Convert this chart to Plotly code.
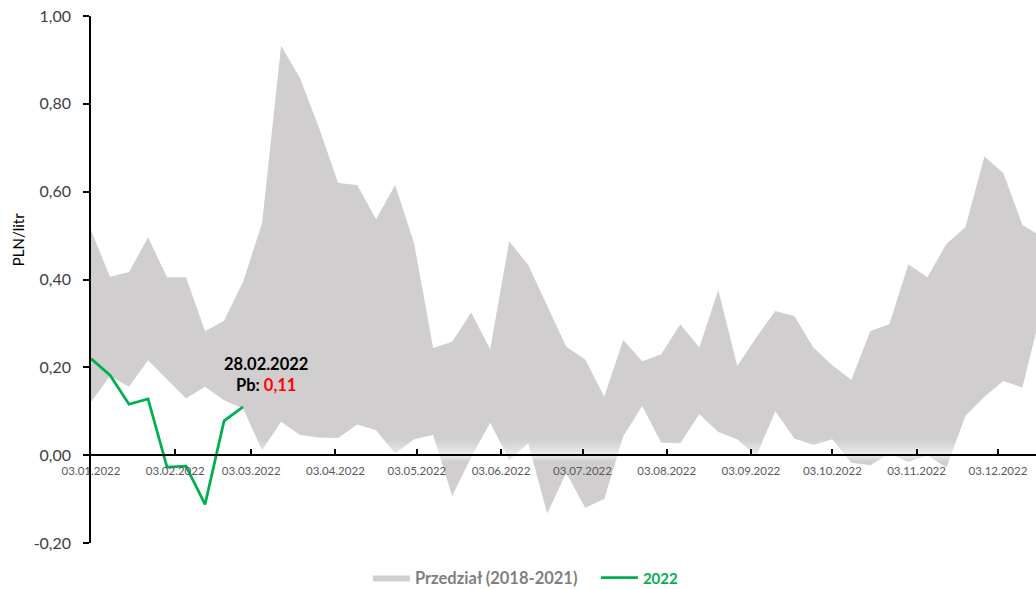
import pandas as pd
import plotly.graph_objects as go

# ---------------- data ----------------
start_date = "2022-01-03"
n_weeks = 51
week_dates = pd.date_range(start_date, periods=n_weeks, freq="7D")

upper_2018_2021 = [0.512, 0.406, 0.417, 0.496, 0.405, 0.405, 0.282, 0.306, 0.395, 0.528,
                   0.932, 0.858, 0.745, 0.620, 0.615, 0.537, 0.615, 0.482, 0.244, 0.258,
                   0.325, 0.241, 0.487, 0.433, 0.340, 0.247, 0.218, 0.133, 0.262, 0.214,
                   0.230, 0.298, 0.245, 0.376, 0.203, 0.268, 0.328, 0.317, 0.245, 0.205,
                   0.171, 0.283, 0.298, 0.435, 0.405, 0.481, 0.519, 0.680, 0.642, 0.524,
                   0.498]
lower_2018_2021 = [0.121, 0.180, 0.156, 0.216, 0.172, 0.129, 0.156, 0.125, 0.106, 0.011,
                   0.076, 0.046, 0.040, 0.039, 0.070, 0.057, 0.004, 0.036, 0.046, -0.093,
                   -0.005, 0.074, -0.011, 0.027, -0.133, -0.040, -0.120, -0.100, 0.043, 0.112,
                   0.028, 0.027, 0.093, 0.053, 0.036, -0.002, 0.100, 0.038, 0.023, 0.036,
                   -0.017, -0.023, 0.004, -0.015, 0.000, -0.028, 0.089, 0.133, 0.169, 0.154,
                   0.330]
values_2022 = [0.220, 0.182, 0.116, 0.128, -0.027, -0.025, -0.112, 0.078, 0.110]

x_tick_labels = ["03.01.2022", "03.02.2022", "03.03.2022", "03.04.2022", "03.05.2022",
                 "03.06.2022", "03.07.2022", "03.08.2022", "03.09.2022", "03.10.2022",
                 "03.11.2022", "03.12.2022"]
y_tick_labels = ["-0,20", "0,00", "0,20", "0,40", "0,60", "0,80", "1,00"]

band_name = "Przedział (2018-2021)"
line_name = "2022"
annot_date = "28.02.2022"
annot_value = "0,11"

# ---------------- derived ----------------
x_tick_vals = pd.to_datetime(x_tick_labels, format="%d.%m.%Y")
y_tick_vals = [float(s.replace(",", ".")) for s in y_tick_labels]
dates_2022 = week_dates[:len(values_2022)]

GRAY = "#D0CECF"
GREEN = "#00B050"
FONT = "Lato"

poly_x = list(week_dates) + list(week_dates[::-1])
poly_y = upper_2018_2021 + lower_2018_2021[::-1]

def f(v):
    return (v + 0.2) / 1.2

fig = go.Figure()

fig.add_trace(go.Scatter(
    x=poly_x, y=poly_y, mode="lines", fill="toself",
    line=dict(width=0, color=GRAY),
    fillcolor=GRAY,
    fillgradient=dict(
        type="vertical", start=-0.2, stop=1.0,
        colorscale=[[0, GRAY], [f(-0.015), GRAY], [f(0.0), "#EDEDED"],
                    [f(0.035), GRAY], [1, GRAY]],
    ),
    showlegend=False, hoverinfo="skip",
))
# legend entry for the band
fig.add_trace(go.Scatter(
    x=[None], y=[None], mode="lines", fill="toself",
    fillcolor=GRAY, line=dict(width=0, color=GRAY),
    name=f"<span style='color:#7F7F7F'><b>{band_name}</b></span>",
))
fig.add_trace(go.Scatter(
    x=dates_2022, y=values_2022, mode="lines",
    line=dict(color=GREEN, width=2.75),
    name=f"<span style='color:{GREEN};font-size:15px'><b>{line_name}</b></span>",
))

fig.add_annotation(
    x=dates_2022[-1], y=values_2022[-1], xref="x", yref="y",
    text=f"<b>{annot_date}</b><br><b>Pb: <span style='color:#FF0000'>{annot_value}</span></b>",
    showarrow=False, xanchor="center", yanchor="bottom",
    xshift=23, yshift=10,
    font=dict(family=FONT, size=16.5, color="#000000"),
)
fig.add_annotation(
    x=-0.077, y=0.575, xref="paper", yref="paper",
    xanchor="center", yanchor="middle",
    text="PLN/litr", textangle=-90, showarrow=False,
    font=dict(family=FONT, size=15, color="#000000"),
)

fig.update_layout(
    width=1036, height=589, autosize=False,
    margin=dict(l=91, r=0, t=16, b=46, pad=0, autoexpand=False),
    paper_bgcolor="white", plot_bgcolor="white",
    separators=",.",
    font=dict(family=FONT),
    showlegend=True,
    legend=dict(orientation="h", x=0.293, xanchor="left", y=-0.066, yanchor="middle",
                itemwidth=37, entrywidthmode="pixels", entrywidth=176,
                font=dict(family=FONT, size=16.5), bgcolor="rgba(0,0,0,0)"),
    xaxis=dict(
        type="date",
        range=["2022-01-03", "2022-12-17"],
        tickvals=x_tick_vals, ticktext=x_tick_labels,
        anchor="free", position=f(0.0),
        showline=True, linecolor="#000000", linewidth=1.5,
        ticks="inside", ticklen=5, tickwidth=1.5, tickcolor="#000000",
        ticklabelstandoff=5,
        tickfont=dict(family=FONT, size=11.5, color="#595959"),
        showgrid=False, zeroline=False, automargin=False,
    ),
    yaxis=dict(
        range=[-0.2, 1.0],
        tickvals=y_tick_vals, ticktext=y_tick_labels,
        showline=True, linecolor="#000000", linewidth=1.5,
        ticks="outside", ticklen=6, tickwidth=1.5, tickcolor="#000000",
        ticklabelstandoff=9,
        tickfont=dict(family=FONT, size=16, color="#404040"),
        showgrid=False, zeroline=False, automargin=False,
    ),
)

fig.write_html(
    "out.html",
    config={"displayModeBar": False},
    post_script="document.body.style.margin='0';document.body.style.overflow='hidden';",
)
